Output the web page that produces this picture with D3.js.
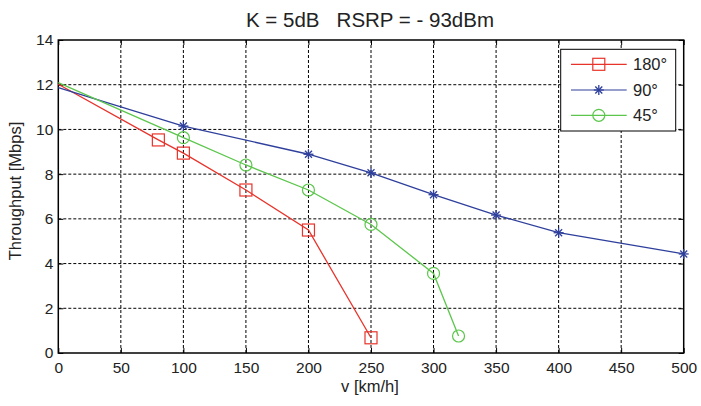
<!DOCTYPE html>
<html><head><meta charset="utf-8">
<script src="https://cdn.jsdelivr.net/npm/d3@7"></script>
<style>body{margin:0;background:#fff;} text{font-family:"Liberation Sans",Arial,sans-serif;}</style>
</head><body>
<svg id="c" width="701" height="406"></svg>
<script>
const xTicks = [0,50,100,150,200,250,300,350,400,450,500];
const yTicks = [0,2,4,6,8,10,12,14];
const v180 = [0,80,100,150,200,250];
const t180 = [12.02,9.53,8.94,7.29,5.50,0.68];
const v90 = [0,100,200,250,300,350,400,500];
const t90 = [11.87,10.15,8.89,8.06,7.08,6.17,5.38,4.43];
const v45 = [0,100,150,200,250,300,320];
const t45 = [12.09,9.63,8.41,7.29,5.75,3.56,0.76];
const seriesNames = ["180°","90°","45°"];
const colors = ["#e8332b","#2e3f9c","#5cc64c"];

const svg = d3.select("#c");
const L=58.3,R=683.7,T=40,B=353;
const x = d3.scaleLinear().domain([0,500]).range([L,R]);
const y = d3.scaleLinear().domain([0,14]).range([B,T]);

// grid
const g = svg.append("g");
g.selectAll(".gx").data(xTicks.slice(1,-1)).enter().append("line")
 .attr("x1",d=>x(d)).attr("x2",d=>x(d)).attr("y1",T).attr("y2",B)
 .attr("stroke","#000").attr("stroke-width",1).attr("stroke-dasharray","3,2");
g.selectAll(".gy").data(yTicks.slice(1,-1)).enter().append("line")
 .attr("y1",d=>y(d)).attr("y2",d=>y(d)).attr("x1",L).attr("x2",R)
 .attr("stroke","#000").attr("stroke-width",1).attr("stroke-dasharray","3,2");

// axes
const xa = svg.append("g").attr("transform",`translate(0,${B})`)
 .call(d3.axisBottom(x).tickValues(xTicks).tickSize(-5).tickPadding(9).tickFormat(d3.format("d")));
const xa2 = svg.append("g").attr("transform",`translate(0,${T})`)
 .call(d3.axisTop(x).tickValues(xTicks).tickSize(-5).tickFormat(""));
const ya = svg.append("g").attr("transform",`translate(${L},0)`)
 .call(d3.axisLeft(y).tickValues(yTicks).tickSize(-5).tickPadding(5).tickFormat(d3.format("d")));
const ya2 = svg.append("g").attr("transform",`translate(${R},0)`)
 .call(d3.axisRight(y).tickValues(yTicks).tickSize(-5).tickFormat(""));
[xa,xa2,ya,ya2].forEach(a=>{
  a.select(".domain").remove();
  a.selectAll("line").attr("stroke","#000");
  a.selectAll("text").attr("font-size",15.5).attr("fill","#222")
   .style("font-family","'Liberation Sans',Arial,sans-serif");
});
svg.append("rect").attr("x",L).attr("y",T).attr("width",R-L).attr("height",B-T)
 .attr("fill","none").attr("stroke","#000").attr("stroke-width",1.5);

const data = [v180.map((v,i)=>[v,t180[i]]), v90.map((v,i)=>[v,t90[i]]), v45.map((v,i)=>[v,t45[i]])];
const line = d3.line().x(d=>x(d[0])).y(d=>y(d[1]));

function marker(sel,k,cx,cy){
  const c=colors[k];
  if(k===0){
    sel.append("rect").attr("x",cx-6).attr("y",cy-6).attr("width",12).attr("height",12)
     .attr("fill","none").attr("stroke",c).attr("stroke-width",1.2);
  } else if(k===1){
    const r=5;
    [[0,-r,0,r],[-r,0,r,0],[-r*0.7,-r*0.7,r*0.7,r*0.7],[-r*0.7,r*0.7,r*0.7,-r*0.7]].forEach(s=>{
      sel.append("line").attr("x1",cx+s[0]).attr("y1",cy+s[1]).attr("x2",cx+s[2]).attr("y2",cy+s[3])
       .attr("stroke",c).attr("stroke-width",1.3);
    });
  } else {
    sel.append("circle").attr("cx",cx).attr("cy",cy).attr("r",6)
     .attr("fill","none").attr("stroke",c).attr("stroke-width",1.2);
  }
}

data.forEach((d,k)=>{
  svg.append("path").datum(d).attr("d",line).attr("fill","none")
   .attr("stroke",colors[k]).attr("stroke-width",1.3);
  const mg = svg.append("g");
  d.filter(p=>p[0]>0).forEach(p=>marker(mg,k,x(p[0]),y(p[1])));
});

// legend
const lg = svg.append("g");
lg.append("rect").attr("x",560.7).attr("y",49.3).attr("width",115).attr("height",81.7)
 .attr("fill","#fff").attr("stroke","#000").attr("stroke-width",1);
const rows=[64.3,90,115.3];
seriesNames.forEach((n,k)=>{
  lg.append("line").attr("x1",571).attr("x2",626.7).attr("y1",rows[k]).attr("y2",rows[k])
   .attr("stroke",colors[k]).attr("stroke-width",1.2);
  marker(lg,k,598.8,rows[k]);
  lg.append("text").attr("x",633).attr("y",rows[k]+6).attr("font-size",16.5).attr("fill","#222").text(n);
});

svg.append("text").attr("x",370).attr("y",27).attr("text-anchor","middle").attr("font-size",20.5)
 .attr("fill","#222").attr("xml:space","preserve").style("white-space","pre").text("K = 5dB   RSRP = - 93dBm");
svg.append("text").attr("x",370).attr("y",392).attr("text-anchor","middle").attr("font-size",16.5)
 .attr("fill","#222").text("v [km/h]");
svg.append("text").attr("transform","translate(21,191) rotate(-90)").attr("text-anchor","middle")
 .attr("font-size",16.5).attr("fill","#222").text("Throughput [Mbps]");
</script>
</body></html>
